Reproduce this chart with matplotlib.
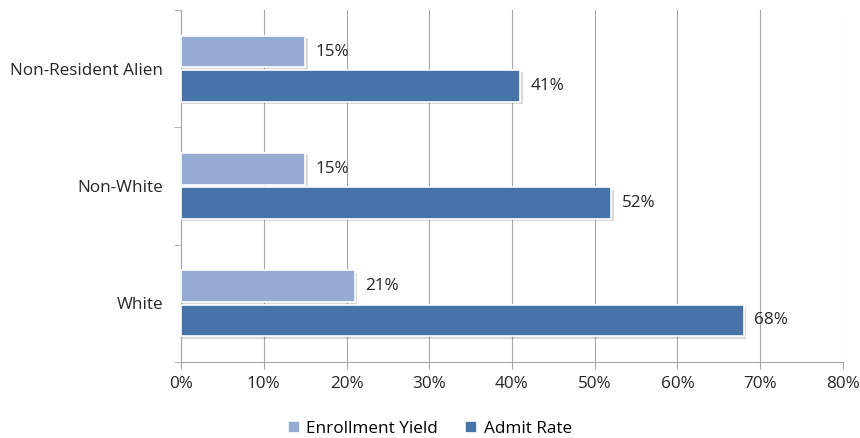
import matplotlib.pyplot as plt
import numpy as np

plt.rcParams["font.family"] = ["Open Sans", "DejaVu Sans"]

# data
categories = ["White", "Non-White", "Non-Resident Alien"]
enrollment_yield = [21, 15, 15]
admit_rate = [68, 52, 41]
x_ticks = [0, 10, 20, 30, 40, 50, 60, 70, 80]

light = "#95abd3"
dark = "#4673a8"
grid_col = "#a6a6a6"
fs = 12.3

fig = plt.figure(figsize=(8.6, 4.38), dpi=100)
ax = fig.add_axes([181 / 860, 1 - 362 / 438, (843 - 181) / 860, (362 - 10) / 438])

y = np.arange(len(categories))
h = 0.27
off = 0.145

# soft shadows behind the bars
for vals, yy in [(enrollment_yield, y + off), (admit_rate, y - off)]:
    ax.barh(yy - 0.02, np.array(vals) + 0.3, height=h, color="#000000",
            alpha=0.15, linewidth=0, zorder=2)

b1 = ax.barh(y + off, enrollment_yield, height=h, color=light, edgecolor="white",
             linewidth=1.2, zorder=3, label="Enrollment Yield")
b2 = ax.barh(y - off, admit_rate, height=h, color=dark, edgecolor="white",
             linewidth=1.2, zorder=3, label="Admit Rate")

for vals, yy in [(enrollment_yield, y + off), (admit_rate, y - off)]:
    for v, yv in zip(vals, yy):
        ax.text(v + 1.3, yv, f"{v}%", va="center", ha="left", fontsize=fs,
                color="#262626", zorder=4)

ax.set_xlim(0, 80)
ax.set_ylim(-0.5, 2.5)
ax.set_xticks(x_ticks)
ax.set_xticklabels([f"{t}%" for t in x_ticks], fontsize=fs, color="#262626")
ax.set_yticks(y)
ax.set_yticklabels(categories, fontsize=fs, color="#262626")
ax.set_yticks([-0.5, 0.5, 1.5, 2.5], minor=True)
ax.tick_params(axis="y", which="major", length=0, pad=12.7)
ax.tick_params(axis="y", which="minor", length=5, color=grid_col, direction="out")
ax.tick_params(axis="x", length=5, color=grid_col, direction="out", pad=5)

ax.grid(axis="x", color=grid_col, linewidth=0.8, zorder=0)
ax.set_axisbelow(True)
for s in ["top", "right"]:
    ax.spines[s].set_visible(False)
for s in ["left", "bottom"]:
    ax.spines[s].set_color(grid_col)

fig.legend(handles=[b1, b2], loc="lower center", bbox_to_anchor=(0.5, -0.033),
           ncol=2, frameon=False, fontsize=fs, handlelength=0.7, handleheight=0.7,
           handletextpad=0.4, columnspacing=1.6)

fig.savefig("out.png", dpi=100)
